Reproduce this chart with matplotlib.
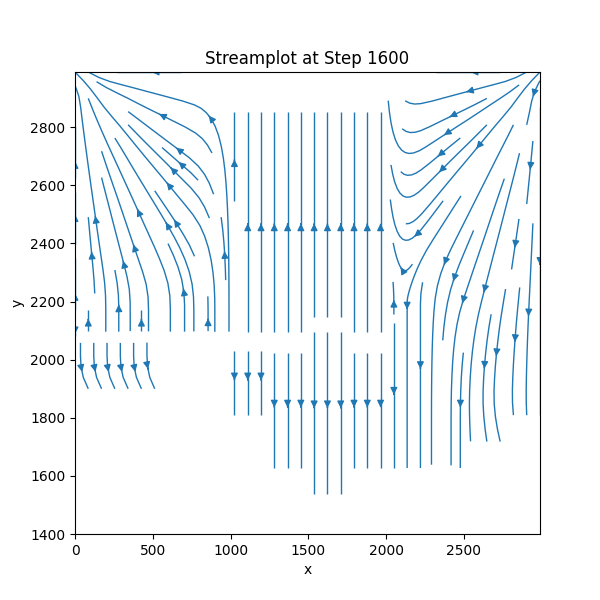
import numpy as np
import matplotlib
matplotlib.use("Agg")
import matplotlib.pyplot as plt

# grid of the flow field (equally spaced nodes)
x_min, x_max, n_cols = 0, 2990, 13
y_min, y_max, n_rows = 1400, 2990, 17

X = np.nan   # no data there
C = None     # calm, zero velocity

# flow direction in degrees as it looks on the plot (0 = right, 90 = up)
# one row per y node, top row (y = 2990) first, columns x = 0 ... 2990
flow_dir = [
    [135, 180, 180, 180,   X,   X,   X,   X,   X, 180, 180, 180, 225],
    [ 90, 144, 160, 166,  90,  90,  90,  90,  90, 194, 200, 216, 270],
    [ 90, 124, 143, 154,  90,  90,  90,  90,  90, 206, 216, 236, 270],
    [ 90, 114, 132, 143,  90,  90,  90,  90,  90, 217, 228, 246, 270],
    [ 90, 109, 124, 135,  90,  90,  90,  90,  90, 225, 236, 251, 270],
    [ 90, 105, 118, 129,  90,  90,  90,  90,  90, 231, 242, 255, 270],
    [ 90, 103, 114, 118,  90,  90,  90,  90,  90, 236, 246, 257, 270],
    [ 90, 101, 111, 105,  90,  90,  90,  90,  90, 255, 249, 259, 270],
    [ 90,  90,  90,  90,  90,  90,  90,  90,  90, 270, 252, 260, 270],
    [  C,   C,   C,   C,   C,   C,   C,   C,   C, 270, 260, 263, 270],
    [270, 270, 270, 270, 270, 270, 270, 270, 270, 270, 265, 265, 270],
    [300, 300, 300, 290, 270, 270, 270, 270, 270, 270, 268, 268, 270],
    [  X,   X,   X,   X, 270, 270, 270, 270, 270, 270, 270, 280, 270],
    [  X,   X,   X,   X,   X, 270, 270, 270, 270, 270, 270, 285,   X],
    [  X,   X,   X,   X,   X, 270, 270, 270, 270, 270, 270,   X,   X],
    [  X,   X,   X,   X,   X,   X, 270, 270,   X,   X,   X,   X,   X],
    [  X,   X,   X,   X,   X,   X,   X,   X,   X,   X,   X,   X,   X],
]

step = 1600


def main():
    x = np.linspace(x_min, x_max, n_cols)
    y = np.linspace(y_min, y_max, n_rows)

    rows = flow_dir[::-1]  # bottom row first for streamplot
    calm = np.array([[a is None for a in r] for r in rows])
    ang = np.array([[0.0 if a is None else a for a in r] for r in rows], dtype=float)

    # screen direction -> data components (axes are not equal aspect)
    rad = np.deg2rad(ang)
    u = np.cos(rad) * (x_max - x_min)
    v = np.sin(rad) * (y_max - y_min)
    u[calm] = 0.0
    v[calm] = 0.0
    u = np.ma.masked_invalid(u)
    v = np.ma.masked_invalid(v)

    fig, ax = plt.subplots(figsize=(6, 6), dpi=100)
    ax.streamplot(x, y, u, v, density=1.2, linewidth=1, color="C0")

    ax.set_title(f"Streamplot at Step {step}")
    ax.set_xlabel("x")
    ax.set_ylabel("y")
    ax.set_xlim(x_min, x_max)
    ax.set_ylim(y_min, y_max)

    fig.savefig("out.png", dpi=100)


if __name__ == "__main__":
    main()
